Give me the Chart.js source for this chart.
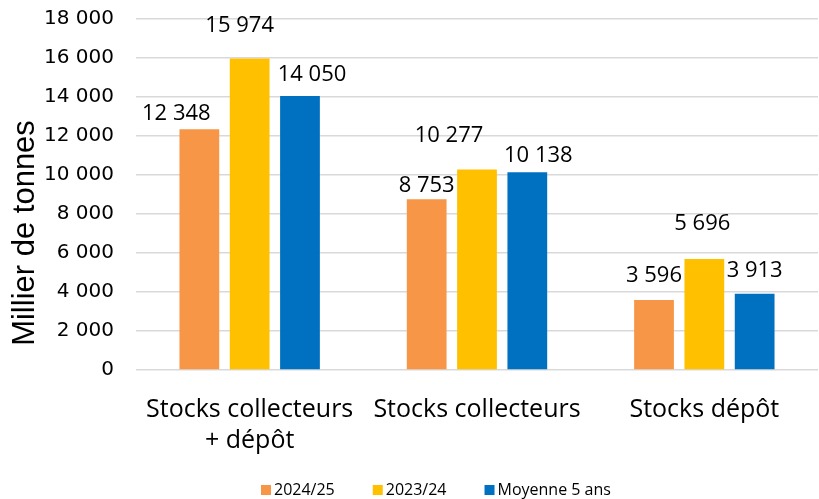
<!DOCTYPE html>
<html lang="fr">
<head>
<meta charset="utf-8">
<script src="https://cdn.jsdelivr.net/npm/chart.js@4.4.1/dist/chart.umd.min.js"></script>
<style>
  html, body { margin: 0; padding: 0; background: #fff; }
  #box { width: 819px; height: 499px; }
</style>
</head>
<body>
<div id="box"><canvas id="grafico"></canvas></div>
<script>
// stocks (milliers de tonnes)
const categorias = [['Stocks collecteurs', '+ dépôt'], 'Stocks collecteurs', 'Stocks dépôt'];
const series = ['2024/25', '2023/24', 'Moyenne 5 ans'];
const valores2425 = [12348, 8753, 3596];
const valores2324 = [15974, 10277, 5696];
const moyenne5 = [14050, 10138, 3913];
const eixoMax = 18000;
const eixoPasso = 2000;
const tituloY = 'Millier de tonnes';

const cores = ['#F79646', '#FFC000', '#0070C0'];

// deslocamento dos rótulos [dx, distância acima da barra], por série e categoria
const ajusteRotulos = [
    [[-23, 15], [0, 14], [0, 24]],
    [[-10, 33], [-28, 34], [-2, 35]],
    [[12, 21], [11, 17], [0, 23]]
];

const milhar = v => String(v).replace(/\B(?=(\d{3})+(?!\d))/g, ' ');

const fonteTexto = '"Open Sans", "Noto Sans", sans-serif';

const rotulosBarras = {
    id: 'rotulosBarras',
    afterDatasetsDraw(chart) {
        const ctx = chart.ctx;
        ctx.save();
        ctx.font = '22px ' + fonteTexto;
        ctx.fillStyle = '#000';
        ctx.textAlign = 'center';
        ctx.textBaseline = 'middle';
        chart.data.datasets.forEach((ds, i) => {
            chart.getDatasetMeta(i).data.forEach((bar, j) => {
                const aj = ajusteRotulos[i][j];
                ctx.fillText(milhar(ds.data[j]), bar.x + aj[0], bar.y - aj[1]);
            });
        });
        ctx.restore();
    }
};

// legenda e título do eixo desenhados à mão
const extras = {
    id: 'extras',
    afterDraw(chart) {
        const ctx = chart.ctx;
        ctx.save();
        ctx.font = '16px ' + fonteTexto;
        ctx.textBaseline = 'middle';
        let x = 261;
        const y = 490;
        chart.data.datasets.forEach(ds => {
            ctx.fillStyle = ds.backgroundColor;
            ctx.fillRect(x, y - 5, 10, 10);
            x += 13;
            ctx.fillStyle = '#000';
            ctx.fillText(ds.label, x, y);
            x += ctx.measureText(ds.label).width + 38;
        });

        ctx.translate(25, 233);
        ctx.rotate(-Math.PI / 2);
        ctx.font = '31px "Liberation Sans", Arial, sans-serif';
        ctx.textAlign = 'center';
        ctx.fillText(tituloY, 0, 0);
        ctx.restore();
    }
};

const grafico = document.getElementById('grafico').getContext('2d');

const myChart = new Chart(grafico, {
    type: 'bar',
    data: {
        labels: categorias,
        datasets: [valores2425, valores2324, moyenne5].map((d, i) => ({
            label: series[i],
            data: d,
            backgroundColor: cores[i],
            borderWidth: 0,
            categoryPercentage: 0.664,
            barPercentage: 0.79
        }))
    },
    options: {
        responsive: true,
        maintainAspectRatio: false,
        animation: false,
        layout: { padding: { top: 0, right: 1, bottom: 30, left: 0 } },
        plugins: {
            legend: { display: false },
            tooltip: { enabled: false }
        },
        scales: {
            x: {
                grid: { display: false },
                border: { display: false },
                ticks: {
                    color: '#000',
                    padding: 17,
                    font: { family: fonteTexto, size: 25, lineHeight: 1.22 },
                    maxRotation: 0
                },
                afterFit(scale) { scale.height = 99; }
            },
            y: {
                min: 0,
                max: eixoMax,
                border: { display: false },
                grid: { color: '#D9D9D9', lineWidth: 1.5, drawTicks: false },
                ticks: {
                    stepSize: eixoPasso,
                    color: '#000',
                    padding: 22,
                    font: { family: '"DejaVu Sans", sans-serif', size: 20 },
                    callback: v => milhar(v)
                },
                afterFit(scale) {
                    scale.width = 136;
                    scale.paddingTop = 19;
                    scale.paddingBottom = 0;
                }
            }
        }
    },
    plugins: [rotulosBarras, extras]
});
</script>
</body>
</html>
